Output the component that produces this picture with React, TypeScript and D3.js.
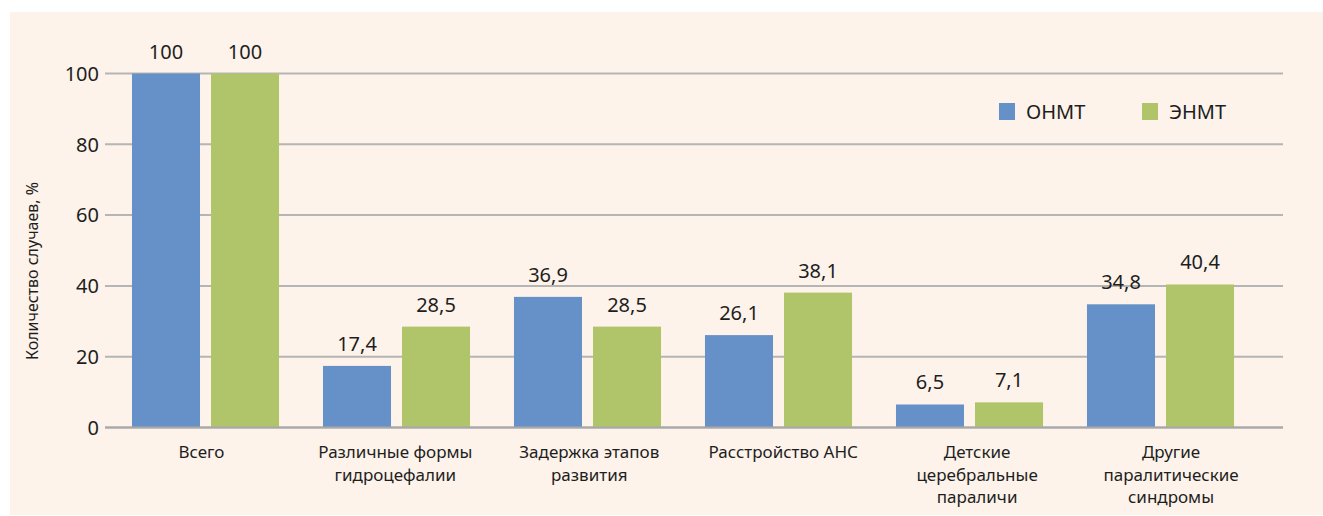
import React from "react";
import * as d3 from "d3";

const categories = [
  "Всего",
  "Различные формы\nгидроцефалии",
  "Задержка этапов\nразвития",
  "Расстройство АНС",
  "Детские\nцеребральные\nпараличи",
  "Другие\nпаралитические\nсиндромы",
];
const seriesNames = ["ОНМТ", "ЭНМТ"];
const onmt = [100, 17.4, 36.9, 26.1, 6.5, 34.8];
const enmt = [100, 28.5, 28.5, 38.1, 7.1, 40.4];
const yTicks = [0, 20, 40, 60, 80, 100];
const yTitle = "Количество случаев, %";

const W = 1323;
const H = 516;
const FONT = "'Noto Sans', sans-serif";
const COLORS = ["#6690c8", "#b0c46a"];
const TEXT = "#1e1e1e";

export default function App() {
  const y = d3.scaleLinear().domain([0, 100]).range([427.5, 73.5]);
  const xBars = d3.scaleBand<number>().domain(d3.range(categories.length)).range([110, 1256]).padding(0);
  const xSub = d3
    .scaleBand<number>()
    .domain([0, 1])
    .range([0, xBars.bandwidth()])
    .paddingInner(0.139)
    .paddingOuter(0.278);
  const xLabels = d3.scaleBand<number>().domain(d3.range(categories.length)).range([104.5, 1268]).padding(0);
  const series = [onmt, enmt];
  const fmt = (v: number) => (Number.isInteger(v) ? String(v) : v.toFixed(1).replace(".", ","));

  return (
    <svg width={W} height={H} style={{ position: "absolute", left: 0, top: 0 }} fontFamily={FONT}>
      <rect x={10} y={12} width={W - 10} height={503} fill="#fdf3ea" />
      {yTicks.map((t) => (
        <g key={t}>
          <line x1={105} x2={1283} y1={y(t)} y2={y(t)} stroke="#b5b5b5" strokeWidth={2} />
          <text x={99} y={y(t)} dy="0.36em" textAnchor="end" fontSize={20} fill={TEXT}>
            {t}
          </text>
        </g>
      ))}
      {series.map((vals, si) =>
        vals.map((v, i) => {
          const x = (xBars(i) as number) + (xSub(si) as number);
          const w = xSub.bandwidth();
          return (
            <g key={`${si}-${i}`}>
              <rect x={x} y={y(v)} width={w} height={y(0) - y(v)} fill={COLORS[si]} />
              <text x={x + w / 2} y={y(v) - 15} textAnchor="middle" fontSize={20} fill={TEXT}>
                {fmt(v)}
              </text>
            </g>
          );
        })
      )}
      <line x1={105} x2={1283} y1={y(0)} y2={y(0)} stroke="#a8a8a8" strokeWidth={2} />
      {categories.map((c, i) => {
        const cx = (xLabels(i) as number) + xLabels.bandwidth() / 2;
        return (
          <text key={c} x={cx} y={458} textAnchor="middle" fontSize={17} fill={TEXT}>
            {c.split("\n").map((line, li) => (
              <tspan key={li} x={cx} dy={li === 0 ? 0 : 22.5}>
                {line}
              </tspan>
            ))}
          </text>
        );
      })}
      <text
        transform={`translate(38, 271) rotate(-90)`}
        textAnchor="middle"
        fontSize={16}
        fill={TEXT}
      >
        {yTitle}
      </text>
      {seriesNames.map((s, i) => (
        <g key={s} transform={`translate(${999 + i * 143}, 103)`}>
          <rect x={0} y={0} width={16} height={17} fill={COLORS[i]} />
          <text x={27} y={8.5} dy="0.36em" fontSize={20} fill={TEXT}>
            {s}
          </text>
        </g>
      ))}
    </svg>
  );
}
